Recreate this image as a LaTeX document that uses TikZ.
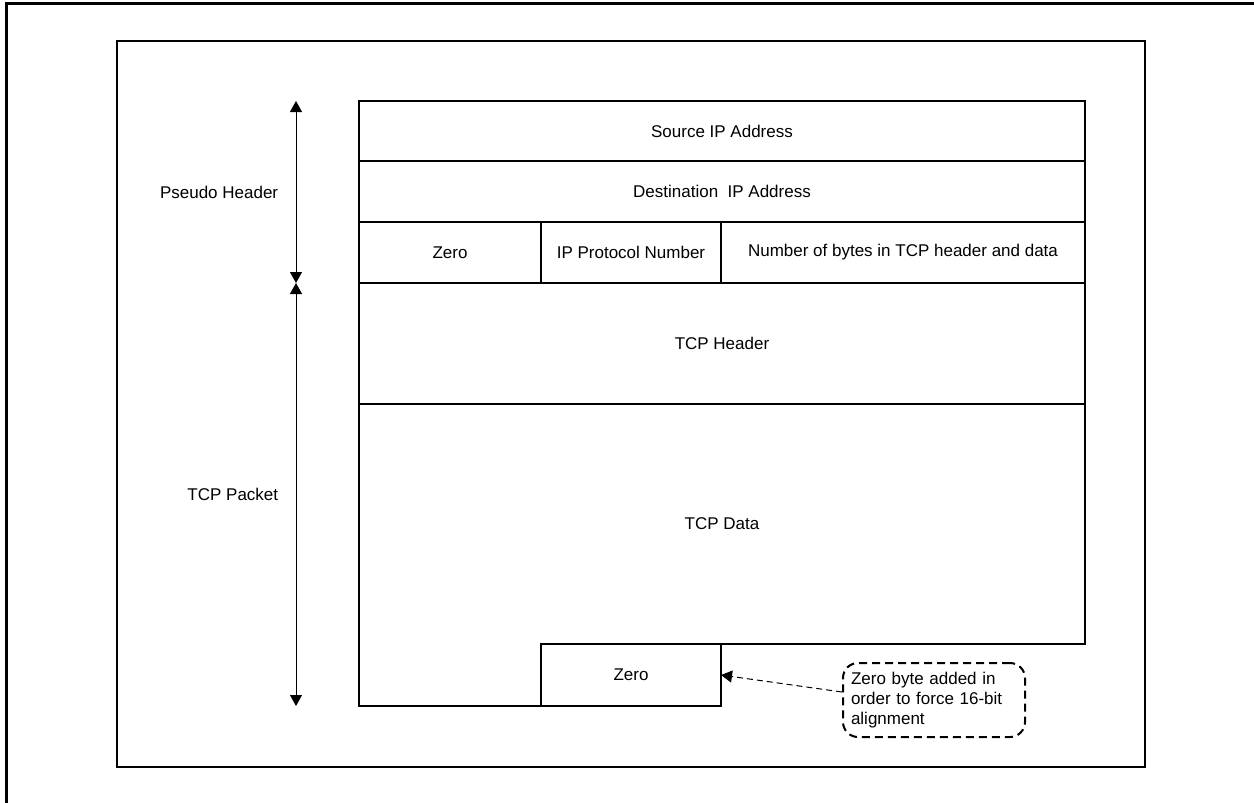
\documentclass[tikz,border=0pt]{standalone}
\usepackage{fontspec}
\setmainfont{Liberation Sans}
\usetikzlibrary{positioning,arrows.meta}
\begin{document}
\begin{tikzpicture}[x=1pt,y=-1pt,>={Triangle[length=11pt,width=12pt]},font=\fontsize{17}{20}\selectfont,
field/.style = {draw, line width=2pt, outer sep=0pt, inner sep=0pt},
span/.style = {<->, line width=1pt},
note/.style = {draw, line width=2pt, dash pattern=on 8pt off 5pt, rounded corners=15pt, align=left, inner xsep=8pt},]
\useasboundingbox (0,0) rectangle (1254,803);
\draw[line width=3pt] (6,803) -- (6,3) -- (1254,3);
\draw[line width=2pt] (117,41) rectangle (1145,767);
% pseudo header
\node (src) at (359,101)[field, anchor=north west, minimum width=726pt, minimum height=60pt] {Source IP Address};
\node (dst)[field, below=0pt of src, minimum width=726pt, minimum height=61pt] {Destination\ \ IP Address};
\node (zeroA) at (dst.south west)[field, anchor=north west, minimum width=182pt, minimum height=61pt] {Zero};
\node (proto)[field, right=0pt of zeroA, minimum width=180pt, minimum height=61pt] {IP Protocol Number};
\node (nbytes)[field, right=0pt of proto, minimum width=364pt, minimum height=61pt] {Number of bytes in TCP header and data};
% tcp packet
\node (hdr) at (zeroA.south west)[field, anchor=north west, minimum width=726pt, minimum height=121pt] {TCP Header};
\node (data) at (hdr.south west)[field, draw=none, anchor=north west, minimum width=726pt, minimum height=240pt] {TCP Data};
\node (zeroB) at (proto.west |- data.south)[field, anchor=north west, minimum width=180pt, minimum height=62pt] {Zero};
\draw[line width=2pt] (data.north east)--(data.south east)--(zeroB.north east);
\draw[line width=2pt] (data.north west)--(data.north west |- zeroB.south)--(zeroB.south west);
% spans
\coordinate (phTop) at (296,101);
\coordinate (phEnd) at (296,283);
\coordinate (pktEnd) at (296,706);
\draw[span] (phTop)--node[left=14pt] {Pseudo Header}(phEnd);
\draw[span] (phEnd)--node[left=14pt] {TCP Packet}(pktEnd);
% callout
\node (pad) at (934,700)[note, minimum width=182pt, minimum height=74pt, text width=166pt] {Zero byte added in\\order to force 16-bit\\alignment};
\draw[->, line width=1pt, dash pattern=on 6pt off 4pt] ([yshift=8pt]pad.west)--(zeroB.east);
\end{tikzpicture}
\end{document}
